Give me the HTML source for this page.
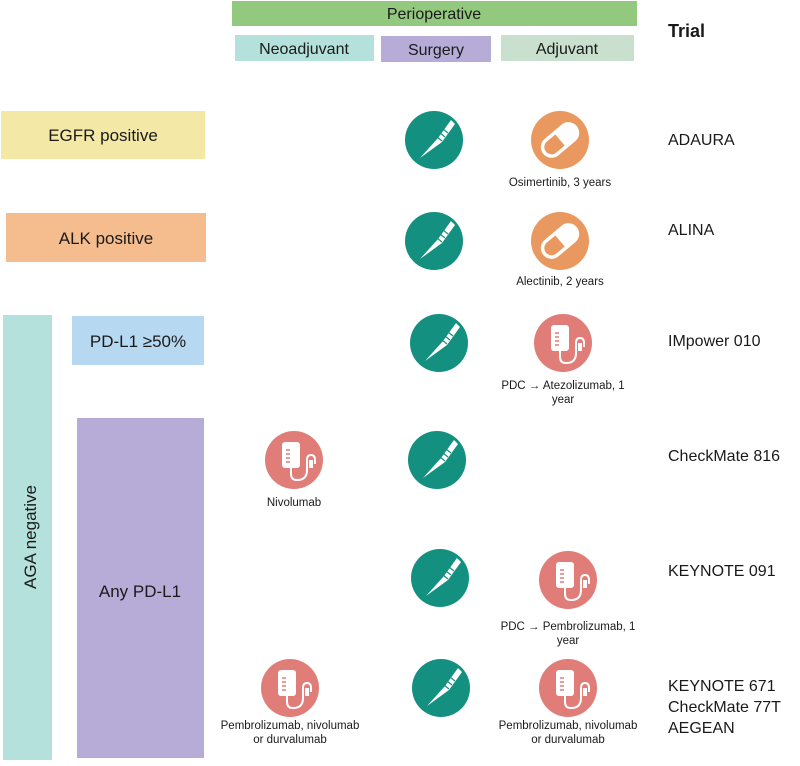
<!DOCTYPE html>
<html><head><meta charset="utf-8"><style>
body{margin:0;background:#fff}
text{font-family:"Liberation Sans",sans-serif;fill:#1a1a1a}
</style></head><body>
<svg width="800" height="761" viewBox="0 0 800 761" xmlns="http://www.w3.org/2000/svg">
<defs>
<g id="sc"><circle r="29" fill="#13907f"/><path d="M-14,18 L4,-2 L17,-20 L21,-16 L8,2 Z" fill="#fff"/><path d="M3,-3 l5,4 M6,-7 l5,4 M9,-11 l5,4" stroke="#13907f" stroke-width="1.2"/></g>
<g id="pill"><circle r="29" fill="#e9995f"/><g transform="rotate(-40)"><rect x="-20" y="-9" width="40" height="18" rx="9" fill="none" stroke="#fff" stroke-width="3.5"/><path d="M0,-9 H11 A9,9 0 0 1 11,9 H0 Z" fill="#fff"/></g></g>
<g id="iv"><circle r="29" fill="#e07d78"/><rect x="-12" y="-18" width="18" height="26" rx="3" fill="#fff"/><path d="M-8,-10h4M-8,-6h4M-8,-2h4M-8,2h4" stroke="#e07d78" stroke-width="1.5"/><path d="M-3,8 v6 q0,6 6,6 q10,0 10,-10 v-10 q0,-5 4,-5 q4,0 4,5 v4" fill="none" stroke="#fff" stroke-width="2"/><rect x="15" y="0" width="4" height="8" fill="#fff"/></g>
</defs>
<rect x="232" y="1" width="405" height="25" fill="#93c97f"/>
<text x="434" y="19" text-anchor="middle" font-size="16">Perioperative</text>
<rect x="235" y="35" width="139" height="26" fill="#b4e1dc"/>
<text x="304" y="54" text-anchor="middle" font-size="16">Neoadjuvant</text>
<rect x="381" y="36" width="110" height="26" fill="#b6acd7"/>
<text x="436" y="55" text-anchor="middle" font-size="16">Surgery</text>
<rect x="501" y="35" width="133" height="26" fill="#c8e0cd"/>
<text x="567" y="54" text-anchor="middle" font-size="16">Adjuvant</text>
<text x="668" y="37" font-size="18" font-weight="bold">Trial</text>

<rect x="1" y="111" width="204" height="48" fill="#f3e8a6"/>
<text x="103" y="141" text-anchor="middle" font-size="17">EGFR positive</text>
<rect x="6" y="213" width="200" height="49" fill="#f5bc8e"/>
<text x="106" y="244" text-anchor="middle" font-size="17">ALK positive</text>
<rect x="3" y="315" width="49" height="445" fill="#b4e1dc"/>
<text transform="translate(36,537) rotate(-90)" text-anchor="middle" font-size="17">AGA negative</text>
<rect x="72" y="316" width="132" height="49" fill="#b7d8f1"/>
<text x="138" y="347" text-anchor="middle" font-size="17">PD-L1 ≥50%</text>
<rect x="77" y="418" width="127" height="340" fill="#b6acd7"/>
<text x="140" y="597" text-anchor="middle" font-size="17">Any PD-L1</text>

<use href="#sc" x="434" y="140"/><use href="#pill" x="560" y="140"/>
<text x="560" y="186" text-anchor="middle" font-size="11.5">Osimertinib, 3 years</text>
<use href="#sc" x="434" y="241"/><use href="#pill" x="560" y="241"/>
<text x="560" y="285" text-anchor="middle" font-size="11.5">Alectinib, 2 years</text>
<use href="#sc" x="439" y="343"/><use href="#iv" x="563" y="343"/>
<text x="563" y="389" text-anchor="middle" font-size="11.5">PDC → Atezolizumab, 1</text>
<text x="563" y="403" text-anchor="middle" font-size="11.5">year</text>
<use href="#iv" x="294" y="460"/><use href="#sc" x="437" y="460"/>
<text x="294" y="506" text-anchor="middle" font-size="11.5">Nivolumab</text>
<use href="#sc" x="440" y="578"/><use href="#iv" x="568" y="580"/>
<text x="568" y="630" text-anchor="middle" font-size="11.5">PDC → Pembrolizumab, 1</text>
<text x="568" y="644" text-anchor="middle" font-size="11.5">year</text>
<use href="#iv" x="290" y="688"/><use href="#sc" x="441" y="688"/><use href="#iv" x="568" y="688"/>
<text x="290" y="729" text-anchor="middle" font-size="11.5">Pembrolizumab, nivolumab</text>
<text x="290" y="743" text-anchor="middle" font-size="11.5">or durvalumab</text>
<text x="568" y="729" text-anchor="middle" font-size="11.5">Pembrolizumab, nivolumab</text>
<text x="568" y="743" text-anchor="middle" font-size="11.5">or durvalumab</text>

<g font-size="16">
<text x="668" y="145">ADAURA</text>
<text x="668" y="235">ALINA</text>
<text x="668" y="346">IMpower 010</text>
<text x="668" y="461">CheckMate 816</text>
<text x="668" y="576">KEYNOTE 091</text>
<text x="668" y="691">KEYNOTE 671</text>
<text x="668" y="712">CheckMate 77T</text>
<text x="668" y="733">AEGEAN</text>
</g>
</svg>
</body></html>
